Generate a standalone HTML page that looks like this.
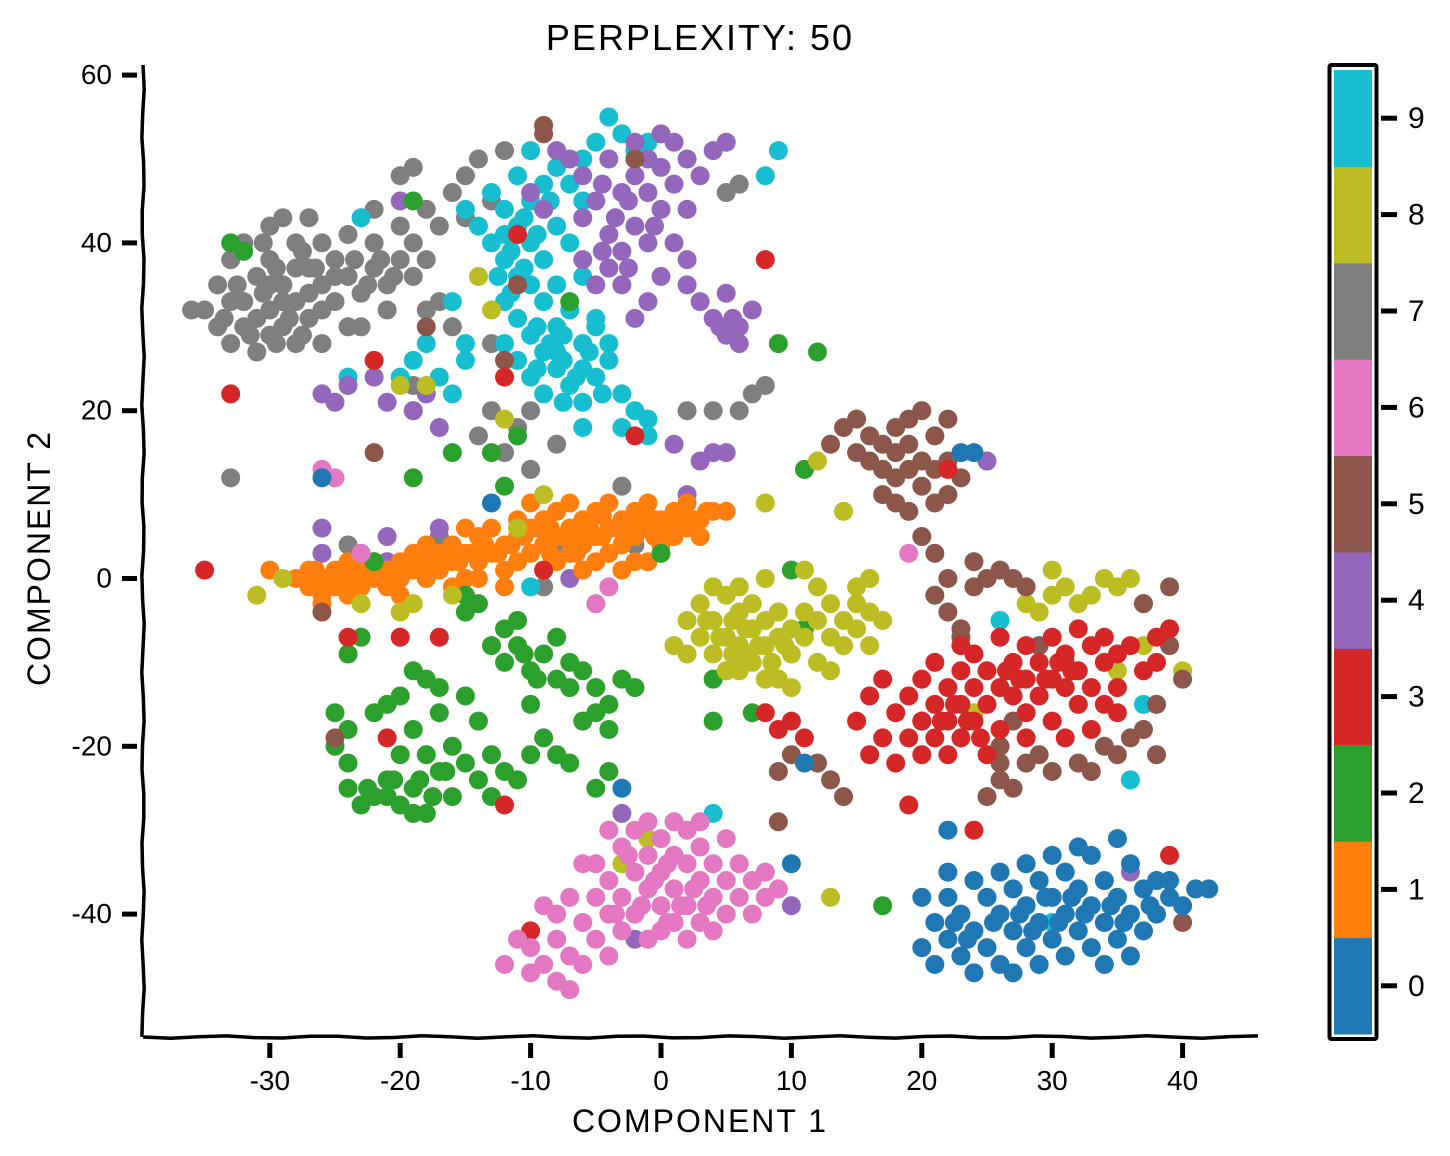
<!DOCTYPE html>
<html><head><meta charset="utf-8"><style>
body{margin:0;background:#fff;}
svg{display:block;font-family:"Comic Sans MS","Liberation Sans",sans-serif;}
</style></head><body>
<svg id="chart" width="1450" height="1156" viewBox="0 0 1450 1156" xmlns="http://www.w3.org/2000/svg">
<rect width="1450" height="1156" fill="#fff"/>
<g id="marks"></g>
<g id="axes"></g>
<g id="cbar"></g>
<text x="700" y="50" text-anchor="middle" font-size="36" letter-spacing="2">PERPLEXITY: 50</text>
<text x="700" y="1132" text-anchor="middle" font-size="32" letter-spacing="2">COMPONENT 1</text>
<text transform="translate(50,558) rotate(-90)" text-anchor="middle" font-size="32" letter-spacing="2">COMPONENT 2</text>
</svg>
<script>
const colors=["#1f77b4","#ff7f0e","#2ca02c","#d62728","#9467bd","#8c564b","#e377c2","#7f7f7f","#bcbd22","#17becf"];
const xTicks=[-30,-20,-10,0,10,20,30,40];
const yTicks=[-40,-20,0,20,40,60];
const cbarLabels=["0","1","2","3","4","5","6","7","8","9"];
const c7=[[-35,32],[-34,30],[-33,28],[-34,35],[-32,33],[-32,30],[-31,27],[-31,36],[-30,38],[-30,32],[-29,30],[-29,35],[-28,40],[-28,33],[-28,28],[-27,37],[-27,31],[-26,35],[-26,40],[-25,38],[-25,33],[-24,36],[-24,41],[-23,34],[-22,37],[-22,40],[-21,35],[-21,32],[-20,38],[-20,42],[-19,36],[-19,40],[-18,44],[-18,38],[-17,42],[-16,46],[-15,48],[-14,50],[-12,51],[-13,45],[-15,43],[-17,33],[-18,32],[-16,30],[-14,17],[-12,15],[-10,13],[-8,16],[-3,11],[2,20],[4,20],[6,20],[7,22],[8,23],[6,47],[5,46],[-33,12],[-30,42],[-29,43],[-27,43],[-23,30],[-26,28],[-32,40],[-36,32],[-33,38],[-28,37],[-30,35],[-24,30],[-22,44],[-20,48],[-19,49],[-11,18],[-10,20],[-13,20],[-8,4],[-9,-1],[-7,3],[-24,4],[-17,5],[-2,4],[-13,28],[-19,20],[-19,23],[-31,31],[-29,33],[-27,34],[-33,33],[-30,29],[-26,32],[-25,36],[-32.5,35],[-30.5,34],[-29.5,37],[-28.5,31],[-27.5,39],[-26.5,37],[-31.5,29],[-33.5,31],[-29.5,28],[-27.5,29],[-30.5,40],[-23.5,38],[-21.5,38],[-20.5,36],[-22.5,35]];
const c9=[[-13,46],[-12,44],[-11,42],[-10,40],[-12,38],[-11,36],[-9,38],[-8,42],[-10,45],[-9,47],[-11,48],[-8,49],[-7,47],[-6,50],[-5,52],[-4,55],[-3,53],[-2,51],[-12,33],[-11,31],[-10,29],[-9,27],[-8,25],[-7,23],[-6,21],[-5,24],[-4,26],[-6,28],[-8,30],[-7,32],[-5,30],[-9,22],[-10,24],[-3,22],[-2,20],[-1,19],[-1,17],[-3,18],[-6,18],[-4,28],[-12,41],[-13,40],[-8,35],[-9,33],[-10,51],[-6,45],[-11,26],[-12,28],[-16,22],[-15,26],[-17,24],[-19,26],[-20,24],[-18,28],[-15,28],[-14,42],[-15,44],[-24,24],[-23,43],[-16,33],[8,48],[9,51],[-1,52],[-5,31],[4,-28],[-10,-1],[26,-5],[30,-41],[37,-15],[36,-24],[-6,36],[-7,40],[-8,27],[-6,25],[-10,35],[-11.5,39],[-10.5,43],[-9.5,41],[-8.5,45],[-10.5,37],[-9.5,30],[-8.5,28],[-7.5,26],[-6.5,24],[-5.5,27],[-7.5,21],[-4.5,22],[-9.5,25],[-11.5,34],[-12.5,36],[-7.5,29]];
const c4=[[-6,48],[-4,50],[-2,52],[-1,50],[0,53],[1,52],[2,50],[3,48],[4,51],[5,52],[-5,45],[-3,46],[-1,46],[1,47],[-6,43],[-4,41],[-2,42],[0,44],[2,44],[-6,38],[-4,37],[-3,39],[-1,40],[1,40],[2,38],[-5,35],[-3,35],[-1,33],[0,36],[2,35],[3,33],[4,31],[5,29],[6,30],[7,32],[6,28],[5,34],[-2,31],[-9,44],[-10,46],[-8,51],[-7,50],[-20,45],[-26,22],[-25,21],[-24,23],[-22,24],[-21,21],[-19,20],[-17,18],[-18,22],[1,16],[3,14],[4,15],[5,15],[2,10],[-26,6],[-21,5],[-26,3],[-21,2],[-7,0],[-17,6],[25,14],[-3,-28],[-2,-43],[10,-39],[36,-35],[-2,48],[0,49],[-4.5,47],[-3.5,43],[-2.5,45],[-0.5,42],[-4.5,39],[-2.5,37],[4.5,30],[5.5,31]];
const c1=[[-28,0],[-27,-1],[-27,1],[-26,-2],[-26,0],[-25,1],[-25,-1],[-24,0],[-24,2],[-23,-1],[-23,1],[-22,0],[-22,2],[-21,1],[-21,-1],[-20,2],[-20,0],[-19,3],[-19,1],[-18,0],[-18,2],[-17,3],[-17,1],[-16,2],[-16,4],[-15,0],[-15,3],[-14,5],[-14,2],[-14,0],[-13,3],[-13,6],[-12,4],[-12,1],[-11,7],[-11,5],[-11,2],[-10,3],[-10,6],[-10,9],[-9,4],[-9,7],[-9,1],[-8,5],[-8,8],[-8,2],[-7,6],[-7,3],[-7,9],[-6,4],[-6,7],[-6,1],[-5,5],[-5,8],[-5,2],[-4,6],[-4,3],[-4,9],[-3,7],[-3,4],[-2,5],[-2,8],[-2,2],[-1,6],[-1,9],[0,4],[0,7],[1,5],[1,8],[2,6],[2,9],[3,7],[3,5],[4,8],[5,8],[-20,-2],[-24,-2],[-26,-3],[-18,4],[-16,-1],[-12,-1],[-3,1],[-1,2],[-30,1],[-15,6],[-26.5,1],[-25.5,0],[-24.5,-1],[-23.5,0.5],[-22.5,1],[-21.5,0],[-20.5,1],[-19.5,2],[-18.5,1],[-17.5,2],[-16.5,3],[-15.5,2],[-14.5,3],[-13.5,4],[-12.5,3],[-11.5,4],[-10.5,5],[-9.5,6],[-8.5,6],[-7.5,5],[-6.5,5],[-5.5,6],[-4.5,5],[-3.5,6],[-2.5,6],[-1.5,7],[-0.5,7],[0.5,6],[1.5,7],[2.5,7],[3.5,8],[-8.5,3],[-6.5,3],[-4.5,7.5],[-0.5,5]];
const c2=[[-25,-16],[-24,-18],[-24,-25],[-23,-27],[-22,-26],[-22,-16],[-21,-15],[-21,-24],[-20,-27],[-19,-25],[-19,-18],[-18,-12],[-18,-21],[-18,-28],[-17,-16],[-17,-23],[-16,-26],[-16,-20],[-15,-22],[-15,-14],[-14,-24],[-14,-17],[-13,-21],[-13,-26],[-12,-23],[-11,-24],[-10,-21],[-9,-19],[-9,-9],[-10,-11],[-11,-8],[-12,-6],[-8,-12],[-7,-10],[-7,-13],[-8,-7],[-6,-11],[-5,-13],[-4,-15],[-3,-12],[-2,-13],[-5,-16],[-4,-18],[-6,-17],[-12,-10],[-13,-8],[-14,-3],[-15,-4],[-19,-11],[-20,-14],[-23,-7],[-24,-9],[-25,-20],[-24,-22],[-20,-21],[-17,-13],[-8,-21],[-7,-22],[-4,-23],[-5,-25],[-10,-15],[-11,-5],[4,-17],[4,-12],[7,-16],[10,1],[11,-6],[9,28],[12,27],[-19,45],[-33,40],[-32,39],[-7,33],[-11,17],[-16,15],[-13,15],[-19,12],[-12,11],[0,3],[17,-39],[11,13],[-15,-2],[-22,2],[-21,-26],[-19,-28],[-20.5,-24],[-18.5,-24],[-16.5,-23],[-17.5,-26],[-22.5,-25],[-10.5,-9],[-9.5,-12]];
const c8=[[2,-5],[3,-7],[3,-3],[4,-9],[4,-5],[5,-2],[5,-7],[5,-11],[6,-4],[6,-8],[7,-6],[7,-10],[7,-3],[8,-12],[8,-8],[8,-5],[9,-7],[9,-4],[10,-9],[10,-6],[11,-7],[11,-4],[12,-10],[12,-5],[13,-7],[13,-3],[14,-8],[14,-5],[15,-6],[15,-3],[16,-8],[16,-4],[17,-5],[15,-1],[16,0],[13,-11],[10,-13],[9,-12],[1,-8],[2,-9],[4,-1],[6,-1],[8,0],[11,1],[12,-1],[29,-4],[30,-2],[31,-1],[30,1],[32,-3],[33,-2],[34,0],[35,-1],[36,0],[37,-3],[28,-3],[38,-15],[40,-11],[35,-11],[37,-8],[-23,-3],[-20,-4],[-19,-3],[-16,-2],[-31,-2],[-29,0],[-23,3],[-11,6],[-9,10],[-14,36],[-13,32],[-12,19],[-18,23],[-20,23],[8,9],[12,14],[14,8],[13,-38],[-1,-31],[6,-11],[-3,-34],[24,-16],[3.5,-5],[4.5,-7],[5.5,-5],[6.5,-6],[7.5,-8],[6.5,-9],[5.5,-9],[8.5,-10],[9.5,-8]];
const c5=[[13,16],[14,18],[15,15],[15,19],[16,14],[16,17],[17,13],[17,16],[18,12],[18,15],[18,18],[19,13],[19,16],[19,19],[20,14],[20,11],[21,17],[21,13],[21,9],[22,14],[22,10],[23,12],[22,19],[20,20],[17,10],[18,9],[19,8],[20,5],[21,3],[22,0],[21,-2],[22,-4],[23,-6],[24,-1],[24,2],[25,0],[26,1],[27,0],[28,-1],[23,-7],[29,-8],[31,-10],[27,-17],[26,-22],[25,-26],[26,-24],[27,-25],[28,-22],[29,-21],[30,-23],[32,-22],[33,-23],[34,-20],[35,-21],[36,-19],[37,-18],[38,-21],[38,-15],[39,-8],[40,-12],[39,-1],[37,-3],[9,-23],[12,-22],[13,-24],[14,-26],[10,-21],[9,-29],[-9,54],[-9,53],[-2,50],[-18,30],[-12,26],[-11,35],[-22,15],[-26,-4],[-25,-19],[40,-41],[26,-20]];
const c3=[[15,-17],[16,-21],[16,-14],[17,-19],[17,-12],[18,-16],[18,-22],[19,-14],[19,-19],[20,-12],[20,-17],[20,-21],[21,-15],[21,-10],[21,-19],[22,-13],[22,-17],[22,-21],[23,-8],[23,-11],[23,-15],[23,-19],[24,-13],[24,-17],[24,-9],[25,-11],[25,-15],[25,-21],[26,-7],[26,-13],[26,-18],[27,-10],[27,-14],[28,-8],[28,-12],[28,-16],[28,-19],[29,-10],[29,-14],[30,-7],[30,-12],[30,-17],[31,-9],[31,-13],[31,-19],[32,-6],[32,-11],[32,-15],[33,-8],[33,-13],[33,-18],[34,-10],[34,-7],[35,-9],[35,-13],[36,-8],[37,-11],[38,-7],[39,-6],[38,-10],[34,-15],[35,-16],[8,-16],[9,-18],[10,-17],[11,-19],[24,-30],[20,-17],[-33,22],[-35,1],[-22,26],[-24,-7],[-20,-7],[-17,-7],[-21,-19],[-12,-27],[-10,-42],[8,38],[-2,17],[-12,24],[-9,1],[19,-27],[39,-33],[22,13],[-11,41],[21.5,-17],[22.5,-15],[23.5,-17],[24.5,-19],[26.5,-11],[27.5,-12],[29.5,-12],[30.5,-10],[31.5,-11]];
const c6=[[-10,-44],[-9,-46],[-8,-48],[-7,-49],[-8,-43],[-7,-45],[-6,-41],[-6,-46],[-5,-38],[-5,-43],[-5,-34],[-4,-36],[-4,-40],[-4,-45],[-3,-32],[-3,-38],[-3,-42],[-2,-30],[-2,-35],[-2,-40],[-1,-33],[-1,-37],[-1,-43],[0,-31],[0,-35],[0,-39],[0,-42],[1,-33],[1,-37],[1,-41],[2,-30],[2,-34],[2,-39],[2,-43],[3,-32],[3,-36],[3,-41],[4,-34],[4,-38],[4,-42],[5,-31],[5,-36],[5,-40],[6,-34],[6,-38],[7,-36],[7,-40],[8,-35],[8,-38],[9,-37],[-6,-34],[-7,-38],[-8,-40],[-9,-39],[-11,-43],[-12,-46],[-10,-47],[-4,-30],[-1,-29],[1,-29],[3,-29],[-26,13],[-25,12],[-23,3],[-5,-3],[-4,-1],[19,3],[-0.5,-36],[0.5,-34],[1.5,-39],[-1.5,-39],[2.5,-37],[3.5,-39],[-2.5,-33],[-3.5,-40],[0.5,-41]];
const c0=[[20,-44],[21,-41],[21,-46],[22,-38],[22,-43],[23,-40],[23,-45],[24,-36],[24,-42],[24,-47],[25,-38],[25,-44],[26,-35],[26,-40],[26,-46],[27,-37],[27,-42],[28,-34],[28,-39],[28,-44],[29,-36],[29,-41],[29,-46],[30,-33],[30,-38],[30,-43],[31,-35],[31,-40],[31,-45],[32,-37],[32,-42],[33,-33],[33,-39],[33,-44],[34,-36],[34,-41],[35,-38],[35,-43],[36,-34],[36,-40],[36,-45],[37,-37],[37,-42],[38,-36],[38,-40],[39,-38],[40,-39],[41,-37],[42,-37],[39,-36],[20,-38],[22,-35],[32,-32],[35,-31],[34,-46],[27,-47],[22,-30],[23,15],[24,15],[-26,12],[-13,9],[-3,-25],[11,-22],[10,-34],[22.5,-41],[23.5,-43],[25.5,-41],[27.5,-40],[28.5,-42],[30.5,-41],[31.5,-38],[32.5,-40],[34.5,-39],[35.5,-41],[37.5,-39],[29.5,-38]];

const NS="http://www.w3.org/2000/svg";
const X0=661, XS=13.04, Y0=578.5, YS=8.39;
const sx=v=>X0+v*XS, sy=v=>Y0-v*YS;
function mk(tag,attrs,parent){const e=document.createElementNS(NS,tag);for(const k in attrs)e.setAttribute(k,attrs[k]);parent.appendChild(e);return e;}
const marks=document.getElementById('marks');
const series=[[7,c7],[9,c9],[4,c4],[1,c1],[2,c2],[8,c8],[5,c5],[3,c3],[6,c6],[0,c0]];
series.forEach(([cls,pts])=>{
  const g=mk('g',{},marks);
  
  
  pts.forEach(p=>{
    const c=mk('circle',{cx:sx(p[0]),cy:sy(p[1]),r:9.5,fill:colors[cls]},g);
    
    
  });
});
const axes=document.getElementById('axes');
function wavy(x1,y1,x2,y2,amp){let d=`M${x1},${y1}`;const n=40;for(let i=1;i<=n;i++){const t=i/n;const o=Math.sin(i*1.7)*amp;const x=x1+(x2-x1)*t+(x1===x2?o:0);const y=y1+(y2-y1)*t+(y1===y2?o:0);d+=` L${x.toFixed(1)},${y.toFixed(1)}`;}return d;}
const ls=mk('path',{d:wavy(143,65,143,1037,1.2),stroke:'#000','stroke-width':3.5,fill:'none'},axes);


const bs=mk('path',{d:wavy(143,1037,1258,1037,1.2),stroke:'#000','stroke-width':3.5,fill:'none'},axes);


xTicks.forEach(v=>{
  const t=mk('line',{x1:sx(v),y1:1043,x2:sx(v),y2:1058,stroke:'#000','stroke-width':5},axes);
  
  
  const l=mk('text',{x:sx(v),y:1090,'text-anchor':'middle','font-size':28},axes);l.textContent=v;
  
  
});
yTicks.forEach(v=>{
  const t=mk('line',{x1:122,y1:sy(v),x2:137,y2:sy(v),stroke:'#000','stroke-width':5},axes);
  
  
  const l=mk('text',{x:112,y:sy(v)+9,'text-anchor':'end','font-size':28},axes);l.textContent=v;
  
  
});
const cb=document.getElementById('cbar');
const cbTop=70,cbBot=1034,cbH=(cbBot-cbTop)/10;
cbarLabels.forEach((lab,i)=>{
  const y=cbBot-(i+1)*cbH;
  const r=mk('rect',{x:1334,y:y,width:38,height:cbH+0.5,fill:colors[i]},cb);
  
  
  const t=mk('line',{x1:1381,y1:y+cbH/2,x2:1397,y2:y+cbH/2,stroke:'#000','stroke-width':5},cb);
  
  
  const l=mk('text',{x:1408,y:y+cbH/2+10,'font-size':30},cb);l.textContent=lab;
  
  
});
const fr=mk('rect',{x:1329.5,y:65,width:47,height:974,fill:'none',stroke:'#000','stroke-width':4,rx:2},cb);


const fi=mk('rect',{x:1332.5,y:68,width:41,height:968,fill:'none',stroke:'#fff','stroke-width':2},cb);


</script>
</body></html>
